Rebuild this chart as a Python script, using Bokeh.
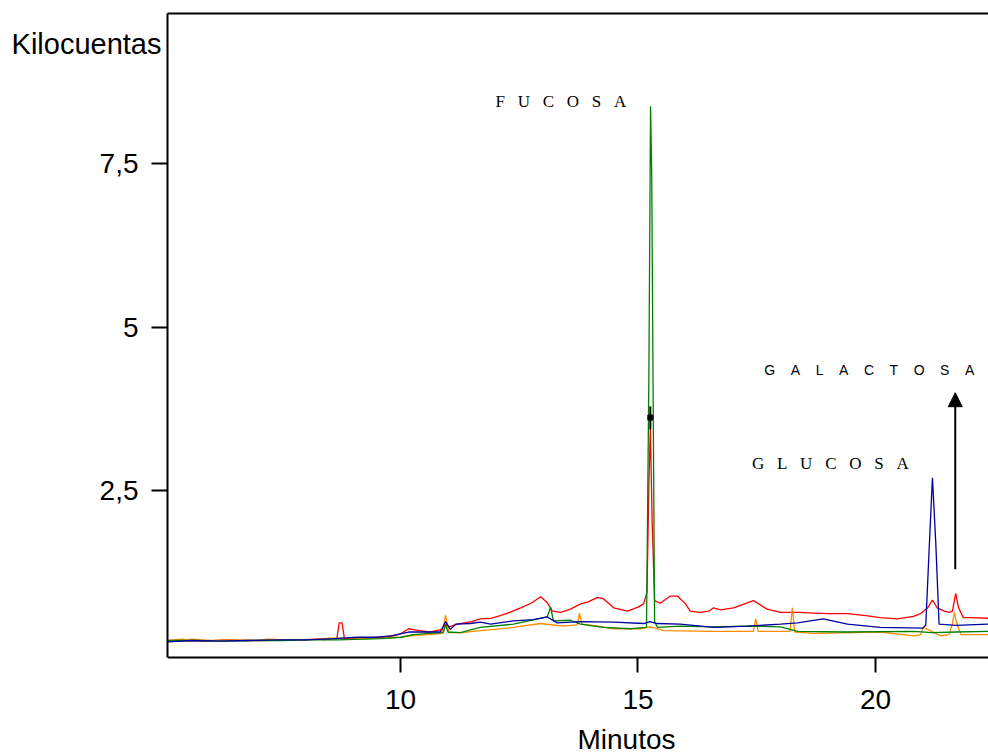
from bokeh.plotting import figure
from bokeh.models import (FixedTicker, LinearAxis, Label, Arrow, NormalHead)
from bokeh.embed import file_html
from bokeh.resources import INLINE

# ---- data (minutes, kilocounts) ----
red_t = [5.1, 5.5, 5.9, 6.3, 6.7, 7.1, 7.5, 7.9, 8.3, 8.66, 8.71, 8.77, 8.82, 9.2, 9.6, 9.85,
         10.0, 10.17, 10.4, 10.6, 10.88, 10.95, 11.02, 11.2, 11.5, 11.68, 11.9, 12.1, 12.3,
         12.53, 12.75, 12.95, 13.09, 13.2, 13.37, 13.58, 13.79, 13.95, 14.15, 14.27, 14.49,
         14.78, 15.0, 15.12, 15.19, 15.23, 15.26, 15.3, 15.35, 15.47, 15.68, 15.83, 16.0,
         16.1, 16.3, 16.5, 16.59, 16.74, 17.01, 17.2, 17.43, 17.72, 18.0, 18.4, 18.7, 19.0,
         19.41, 19.8, 20.1, 20.46, 20.8, 20.95, 21.1, 21.2, 21.3, 21.45, 21.55, 21.62, 21.69,
         21.75, 21.85, 22.0, 22.38]
red_kc = [0.20, 0.21, 0.20, 0.22, 0.21, 0.21, 0.22, 0.22, 0.23, 0.24, 0.48, 0.48, 0.24, 0.25,
          0.26, 0.28, 0.31, 0.39, 0.36, 0.34, 0.38, 0.46, 0.42, 0.46, 0.50, 0.54, 0.55, 0.59,
          0.64, 0.71, 0.78, 0.88, 0.79, 0.66, 0.64, 0.69, 0.77, 0.80, 0.87, 0.85, 0.71, 0.66,
          0.72, 0.77, 0.95, 2.6, 3.45, 2.0, 0.82, 0.78, 0.89, 0.89, 0.77, 0.66, 0.64, 0.66,
          0.71, 0.68, 0.71, 0.76, 0.82, 0.69, 0.64, 0.64, 0.63, 0.62, 0.62, 0.59, 0.56, 0.54,
          0.58, 0.62, 0.71, 0.83, 0.71, 0.66, 0.64, 0.66, 0.93, 0.71, 0.56, 0.56, 0.55]

blue_t = [5.1, 5.6, 6.2, 6.8, 7.4, 8.0, 8.6, 9.1, 9.5, 9.8, 10.17, 10.5, 10.84, 10.95, 11.05,
          11.16, 11.47, 11.68, 11.9, 12.38, 12.8, 13.09, 13.3, 13.79, 14.49, 15.12, 15.25,
          15.4, 15.89, 16.6, 17.3, 18.0, 18.36, 18.9, 19.41, 20.1, 21.0, 21.06, 21.13, 21.2,
          21.27, 21.34, 21.7, 22.38]
blue_kc = [0.19, 0.21, 0.20, 0.21, 0.22, 0.22, 0.24, 0.26, 0.26, 0.28, 0.34, 0.34, 0.34, 0.50,
           0.38, 0.46, 0.47, 0.49, 0.46, 0.51, 0.53, 0.57, 0.48, 0.50, 0.49, 0.47, 0.50, 0.47,
           0.46, 0.41, 0.43, 0.46, 0.48, 0.54, 0.46, 0.41, 0.40, 0.45, 1.6, 2.70, 1.7, 0.46,
           0.44, 0.46]

green_t = [5.1, 5.7, 6.3, 6.9, 7.5, 8.1, 8.7, 9.2, 9.6, 10.0, 10.27, 10.6, 10.9, 10.95, 11.0,
           11.26, 11.68, 12.38, 13.09, 13.16, 13.22, 13.58, 13.79, 14.27, 14.84, 15.18, 15.23,
           15.265, 15.29, 15.35, 15.41, 15.89, 16.6, 17.3, 18.0, 18.36, 19.41, 20.8, 21.2,
           21.7, 22.38]
green_kc = [0.21, 0.21, 0.20, 0.21, 0.21, 0.22, 0.22, 0.23, 0.24, 0.26, 0.30, 0.32, 0.33, 0.45,
            0.34, 0.33, 0.41, 0.46, 0.57, 0.72, 0.51, 0.52, 0.46, 0.41, 0.39, 0.41, 4.3, 8.38,
            7.3, 0.5, 0.41, 0.43, 0.42, 0.43, 0.42, 0.35, 0.34, 0.35, 0.33, 0.34, 0.35]

orange_t = [5.1, 5.4, 5.5, 5.6, 6.0, 6.5, 7.0, 7.2, 7.6, 8.0, 8.3, 8.4, 8.5, 8.9, 9.3, 9.7,
            10.0, 10.3, 10.6, 10.88, 10.95, 11.02, 11.3, 11.68, 12.38, 12.95, 13.43, 13.72,
            13.77, 13.82, 14.15, 14.49, 15.05, 15.26, 15.54, 16.6, 17.43, 17.48, 17.53, 18.0,
            18.2, 18.25, 18.3, 18.7, 20.1, 20.8, 20.95, 21.0, 21.16, 21.37, 21.55, 21.62,
            21.66, 21.72, 21.8, 22.38]
orange_kc = [0.21, 0.23, 0.22, 0.23, 0.21, 0.22, 0.21, 0.23, 0.22, 0.22, 0.24, 0.22, 0.25,
             0.23, 0.24, 0.25, 0.26, 0.29, 0.30, 0.32, 0.60, 0.33, 0.33, 0.36, 0.41, 0.47,
             0.43, 0.45, 0.63, 0.46, 0.43, 0.39, 0.39, 0.42, 0.36, 0.35, 0.35, 0.54, 0.35,
             0.35, 0.35, 0.71, 0.34, 0.32, 0.34, 0.28, 0.30, 0.41, 0.36, 0.28, 0.30, 0.46,
             0.64, 0.45, 0.30, 0.30]

cursor_t = [15.26]
cursor_lo = [3.44]
cursor_hi = [3.79]
cursor_kc = [3.62]

x_ticks = [10, 15, 20]
y_ticks = [2.5, 5, 7.5]
y_tick_labels = {2.5: "2,5", 5: "5", 7.5: "7,5"}

NB = "\u00a0"
def spaced(word, n):
    return (NB * n).join(word)

peak_names = [spaced("FUCOSA", 3), spaced("GALACTOSA", 4), spaced("GLUCOSA", 3)]
peak_t = [12.0, 17.66, 17.4]
peak_kc = [8.46, 4.34, 2.91]

arrow_t = 21.68
arrow_from = 1.30
arrow_to = 4.0

y_title = "Kilocuentas"
y_title_at = 9.33
x_title = "Minutos"
x_title_t = 13.726
x_title_kc = -1.30

X_START, X_END = 5.095, 22.38
Y_BASE, Y_TOP = -0.05, 9.8
Y_VIEW_START = -1.564   # view extends below the axis so the x title fits

FONT = "Liberation Sans"
SERIF = "Liberation Serif"
FS = "28px"

p = figure(width=988, height=756, x_range=(X_START, X_END), y_range=(Y_VIEW_START, Y_TOP),
           output_backend="svg", toolbar_location=None, x_axis_location=None,
           min_border_left=167, min_border_right=0, min_border_top=13, min_border_bottom=0)
p.grid.visible = False
p.outline_line_color = None
p.background_fill_color = "white"

xax = LinearAxis(fixed_location=Y_BASE, ticker=FixedTicker(ticks=x_ticks))
p.add_layout(xax, "below")

yax = p.yaxis[0]
yax.bounds = (Y_BASE, Y_TOP)

for ax in (xax, yax):
    ax.axis_line_width = 2
    ax.axis_line_color = "black"
    ax.major_tick_line_width = 2
    ax.major_tick_line_color = "black"
    ax.major_tick_in = 0
    ax.minor_tick_line_color = None
    ax.major_label_text_font = FONT
    ax.major_label_text_font_size = FS
    ax.major_label_text_color = "black"

xax.major_tick_out = 15
xax.major_label_standoff = 17
yax.ticker = FixedTicker(ticks=y_ticks)
yax.major_label_overrides = y_tick_labels
yax.major_tick_out = 16
yax.major_label_standoff = 13

# top frame line
top = LinearAxis(ticker=FixedTicker(ticks=[]), major_tick_out=0, major_tick_in=0,
                 major_label_standoff=0, axis_line_width=2, axis_line_color="black",
                 minor_tick_line_color=None, major_label_text_font_size="0px")
p.add_layout(top, "above")

# horizontal y title at the top-left (extra label-only axis)
ytitle_axis = LinearAxis(ticker=FixedTicker(ticks=[y_title_at]),
                         major_label_overrides={y_title_at: y_title},
                         axis_line_color=None, major_tick_line_color=None,
                         minor_tick_line_color=None, major_tick_out=0, major_tick_in=0,
                         major_label_standoff=-65, major_label_text_font=FONT,
                         major_label_text_font_size="29px", major_label_text_color="black")
p.add_layout(ytitle_axis, "left")

p.add_layout(Label(x=x_title_t, y=x_title_kc, text=x_title, text_font=FONT,
                   text_font_size=FS, text_baseline="middle", text_align="left",
                   text_color="black"))

lw = 1.3
p.line(red_t, red_kc, line_color="#ff0000", line_width=lw)
p.line(orange_t, orange_kc, line_color="#ff8c00", line_width=lw)
p.line(green_t, green_kc, line_color="#008000", line_width=lw)
p.line(blue_t, blue_kc, line_color="#0000a0", line_width=lw)

p.segment(x0=cursor_t, y0=cursor_lo, x1=cursor_t, y1=cursor_hi, line_color="black", line_width=2)
p.scatter(cursor_t, cursor_kc, marker="square", size=5, color="black")

fonts = [SERIF, FONT, SERIF]
sizes = ["17px", "14px", "17px"]
for name, t, kc, f, s in zip(peak_names, peak_t, peak_kc, fonts, sizes):
    p.add_layout(Label(x=t, y=kc, text=name, text_font=f, text_font_size=s,
                       text_color="black", text_baseline="middle", text_align="left"))

p.add_layout(Arrow(end=NormalHead(size=14, fill_color="black", line_color="black"),
                   x_start=arrow_t, y_start=arrow_from, x_end=arrow_t, y_end=arrow_to,
                   line_color="black", line_width=2))

open("out.html", "w").write(file_html(p, INLINE))
